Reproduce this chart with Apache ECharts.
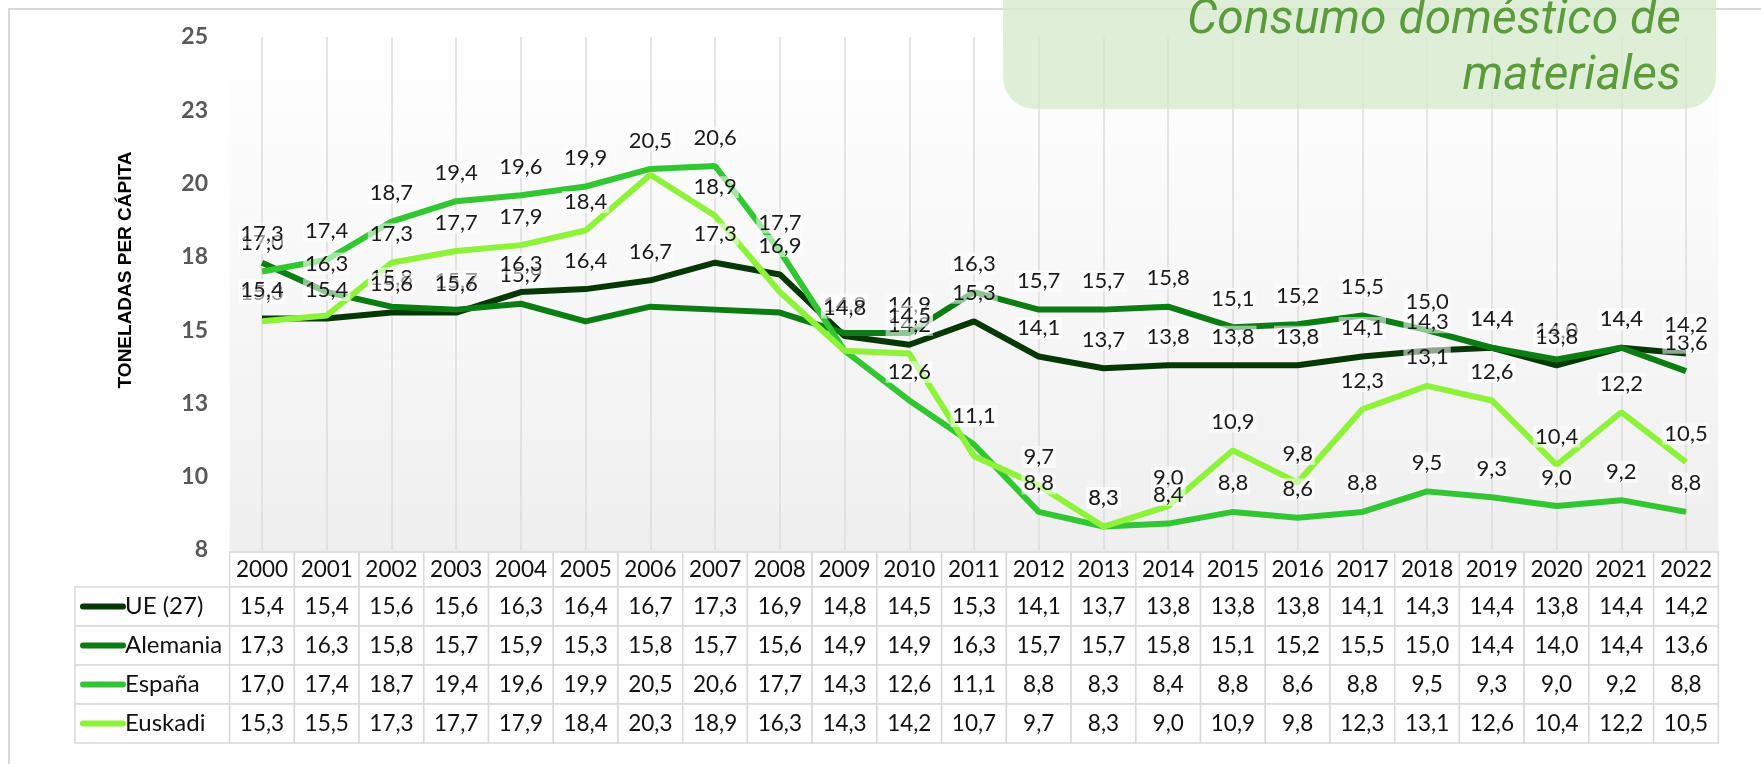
<!DOCTYPE html>
<html>
<head>
<meta charset="utf-8">
<script src="https://cdn.jsdelivr.net/npm/echarts@6/dist/echarts.min.js"></script>
<style>
  html,body{margin:0;padding:0;background:#fff}
  #chart{width:1761px;height:764px}
</style>
</head>
<body>
<div id="chart"></div>
<script>
// datos (toneladas per cápita)
var years = ['2000','2001','2002','2003','2004','2005','2006','2007','2008','2009','2010','2011','2012','2013','2014','2015','2016','2017','2018','2019','2020','2021','2022']
var ue = [15.4,15.4,15.6,15.6,16.3,16.4,16.7,17.3,16.9,14.8,14.5,15.3,14.1,13.7,13.8,13.8,13.8,14.1,14.3,14.4,13.8,14.4,14.2]
var alemania = [17.3,16.3,15.8,15.7,15.9,15.3,15.8,15.7,15.6,14.9,14.9,16.3,15.7,15.7,15.8,15.1,15.2,15.5,15.0,14.4,14.0,14.4,13.6]
var espana = [17.0,17.4,18.7,19.4,19.6,19.9,20.5,20.6,17.7,14.3,12.6,11.1,8.8,8.3,8.4,8.8,8.6,8.8,9.5,9.3,9.0,9.2,8.8]
var euskadi = [15.3,15.5,17.3,17.7,17.9,18.4,20.3,18.9,16.3,14.3,14.2,10.7,9.7,8.3,9.0,10.9,9.8,12.3,13.1,12.6,10.4,12.2,10.5]
var names = ['UE (27)','Alemania','España','Euskadi']
var colors = ['#063806','#0b7d12','#33c633','#8ef23a']
var allData = [ue, alemania, espana, euskadi]
// etiquetas que no aparecen en el gráfico original (índice de año)
var hiddenLabels = [[], [5,6,7,8], [9], [1,6,8,9,11]]

var FONT = "Lato,'Liberation Sans',sans-serif"
function fmt(v){ return v.toFixed(1).replace('.', ',') }

var chart = echarts.init(document.getElementById('chart'))

var series = []
// líneas
for(var i = 0; i < names.length; i++){
  series.push({
    name: names[i], type: 'line', data: allData[i],
    symbol: 'none',
    lineStyle: {width: 6, color: colors[i]},
    itemStyle: {color: colors[i]},
    z: 3
  })
}
// etiquetas (orden inverso para que UE quede encima, como en Excel)
for(var i = names.length - 1; i >= 0; i--){
  var hid = hiddenLabels[i]
  series.push({
    name: names[i] + ' etiquetas', type: 'line',
    data: allData[i].map(function(v, k){
      return hid.indexOf(k) >= 0 ? {value: v, label: {show: false}} : v
    }),
    symbol: 'circle', symbolSize: 1, showSymbol: true,
    lineStyle: {width: 0, opacity: 0},
    itemStyle: {color: 'rgba(0,0,0,0)'},
    z: 4, silent: true,
    label: {
      show: true, position: 'top', distance: 17,
      formatter: function(p){ return fmt(p.value) },
      fontFamily: FONT, fontSize: 22, color: '#1a1a1a',
      backgroundColor: 'rgba(255,255,255,0.55)', padding: [0,2]
    }
  })
}

chart.setOption({
  animation: false,
  grid: {left: 262, right: 75, top: 37, bottom: 214},
  xAxis: {
    type: 'category', data: years, boundaryGap: false,
    axisLine: {show: false}, axisTick: {show: false}, axisLabel: {show: false},
    splitLine: {show: true, lineStyle: {color: '#dcdcdc', width: 1.5}}
  },
  yAxis: {
    type: 'value', min: 7.5, max: 25, interval: 2.5,
    axisLine: {show: false}, axisTick: {show: false}, splitLine: {show: false},
    axisLabel: {
      formatter: function(v){ return Math.round(v) },
      fontFamily: FONT, fontSize: 23, fontWeight: 'bold', color: '#595959', margin: 54
    }
  },
  series: series
})

// tabla de datos y adornos
var xs = years.map(function(y, i){ return chart.convertToPixel({xAxisIndex: 0}, i) })
var colW = xs[1] - xs[0]
var tLeft = xs[0] - colW/2, tRight = xs[xs.length-1] + colW/2
var yTop = chart.convertToPixel({yAxisIndex: 0}, 25)
var tableTop = chart.convertToPixel({yAxisIndex: 0}, 7.5) + 2
var headH = 35, rowH = 39, labLeft = 75
var cellStroke = '#d9d9d9'

var els = []
// borde exterior
els.push({type: 'rect', z: -20, shape: {x: 9, y: 9, width: 1780, height: 800}, style: {fill: '#fff', stroke: '#d9d9d9', lineWidth: 2}})
// fondo del área de trazado
els.push({type: 'rect', z: -10, shape: {x: tLeft, y: yTop - 4, width: tRight - tLeft, height: tableTop - yTop + 4},
  style: {fill: new echarts.graphic.LinearGradient(0, 0, 0, 1, [{offset: 0, color: '#ffffff'}, {offset: 1, color: '#efefef'}])}})
// título eje Y
els.push({type: 'text', x: 126, y: 270, rotation: Math.PI/2,
  style: {text: 'TONELADAS PER CÁPITA', fontFamily: "'Liberation Sans',sans-serif", fontSize: 19, fontWeight: 'bold', fill: '#000', align: 'center', verticalAlign: 'middle'}})
// cabecera con años
for(var j = 0; j < years.length; j++){
  els.push({type: 'rect', z: 5, shape: {x: xs[j] - colW/2, y: tableTop, width: colW, height: headH}, style: {fill: '#fff', stroke: cellStroke, lineWidth: 1.5}})
  els.push({type: 'text', z: 6, x: xs[j], y: tableTop + headH/2, style: {text: years[j], fontFamily: FONT, fontSize: 22.5, fill: '#111', align: 'center', verticalAlign: 'middle'}})
}
// filas de series
for(var r = 0; r < names.length; r++){
  var ry = tableTop + headH + r*rowH
  els.push({type: 'rect', z: 5, shape: {x: labLeft, y: ry, width: tLeft - labLeft, height: rowH}, style: {fill: '#fff', stroke: cellStroke, lineWidth: 1.5}})
  els.push({type: 'line', z: 6, shape: {x1: 83, y1: ry + rowH/2, x2: 123, y2: ry + rowH/2}, style: {stroke: colors[r], lineWidth: 6, lineCap: 'round'}})
  els.push({type: 'text', z: 6, x: 125, y: ry + rowH/2, style: {text: names[r], fontFamily: FONT, fontSize: 24, fill: '#111', align: 'left', verticalAlign: 'middle'}})
  for(var j = 0; j < years.length; j++){
    els.push({type: 'rect', z: 5, shape: {x: xs[j] - colW/2, y: ry, width: colW, height: rowH}, style: {fill: '#fff', stroke: cellStroke, lineWidth: 1.5}})
    els.push({type: 'text', z: 6, x: xs[j], y: ry + rowH/2, style: {text: fmt(allData[r][j]), fontFamily: FONT, fontSize: 22.5, fill: '#111', align: 'center', verticalAlign: 'middle'}})
  }
}
// recuadro del título
els.push({type: 'rect', z: 10, shape: {x: 1003, y: -40, width: 713, height: 149, r: 32}, style: {fill: 'rgba(214,235,204,0.78)'}})
els.push({type: 'text', z: 11, x: 1681, y: 21, style: {text: 'Consumo doméstico de', fontFamily: "'Roboto',sans-serif", fontStyle: 'italic', fontSize: 48, fill: '#5b9b3c', align: 'right', verticalAlign: 'middle'}})
els.push({type: 'text', z: 11, x: 1681, y: 77, style: {text: 'materiales', fontFamily: "'Roboto',sans-serif", fontStyle: 'italic', fontSize: 48, fill: '#5b9b3c', align: 'right', verticalAlign: 'middle'}})

chart.setOption({graphic: {elements: els}})
</script>
</body>
</html>
